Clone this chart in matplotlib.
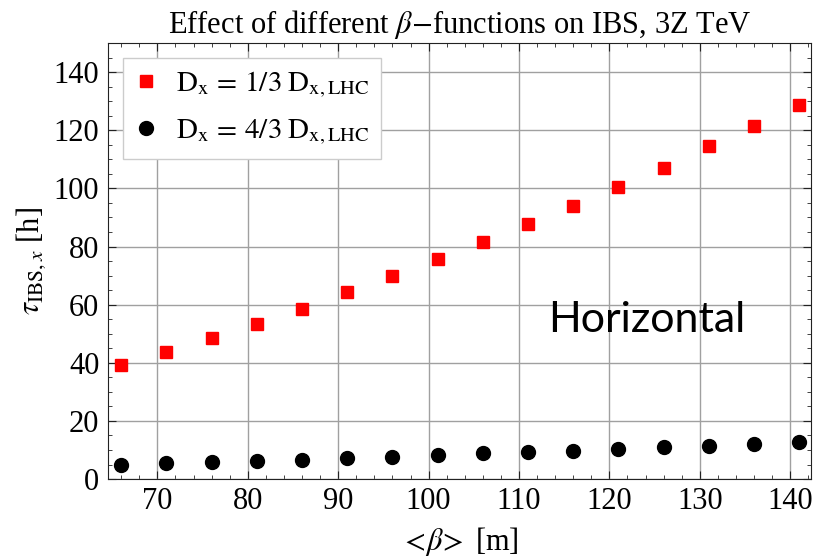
import matplotlib
matplotlib.use("Agg")
import matplotlib.pyplot as plt
from matplotlib.ticker import MultipleLocator

# <beta> [m]
beta = [66, 71, 76, 81, 86, 91, 96, 101, 106, 111, 116, 121, 126, 131, 136, 141]
# tau_IBS,x [h]
tau_13 = [39.3, 43.8, 48.6, 53.5, 58.6, 64.3, 69.8, 75.8, 81.5, 87.7, 94.0, 100.5, 107.0, 114.5, 121.3, 128.6]
tau_43 = [4.9, 5.5, 5.9, 6.3, 6.7, 7.3, 7.7, 8.3, 8.8, 9.2, 9.8, 10.3, 10.9, 11.4, 11.9, 12.6]

plt.rcParams["font.family"] = ["Liberation Serif", "DejaVu Serif"]
plt.rcParams["mathtext.fontset"] = "stix"

fig = plt.figure(figsize=(8.25, 5.59), dpi=100)
ax = fig.add_axes([0.1305, 0.143, 0.8525, 0.78])

ax.plot(beta, tau_13, ls="none", marker="s", ms=8.5, color="#ff0000",
        label=r"$\mathrm{D_x\,=\,1/3\;D_{x,LHC}}$")
ax.plot(beta, tau_43, ls="none", marker="o", ms=10, color="black",
        label=r"$\mathrm{D_x\,=\,4/3\;D_{x,LHC}}$")

ax.set_xlim(64.5, 142.3)
ax.set_ylim(0, 150)
ax.set_xticks(range(70, 141, 10))
ax.set_yticks(range(0, 141, 20))
ax.xaxis.set_minor_locator(MultipleLocator(2))
ax.yaxis.set_minor_locator(MultipleLocator(5))
ax.tick_params(which="both", direction="in", top=True, right=True, color="#222222")
ax.tick_params(which="major", length=6, labelsize=22, pad=6)
ax.tick_params(which="minor", length=3)
ax.grid(True, which="major", color="#a0a0a0", lw=1)
for s in ax.spines.values():
    s.set_color("#222222")

ax.set_title(r"Effect of different $\beta$$-$functions on IBS, 3Z TeV", fontsize=22, pad=7)
ax.set_xlabel(r"$<\!\beta\!>$ [m]", fontsize=22, labelpad=6)
ax.set_ylabel(r"$\tau_{\mathrm{IBS},x}$ [h]", fontsize=22, labelpad=4)

ax.text(0.626, 0.365, "Horizontal", fontsize=31, family="Lato", transform=ax.transAxes,
        va="center", ha="left")

leg = ax.legend(loc="upper left", fontsize=21, frameon=True, fancybox=False,
                edgecolor="#cccccc", framealpha=1, handlelength=0.8,
                handletextpad=0.6, borderpad=0.4, labelspacing=0.6,
                borderaxespad=0, bbox_to_anchor=(0.022, 0.966))

fig.savefig("out.png", dpi=100)
